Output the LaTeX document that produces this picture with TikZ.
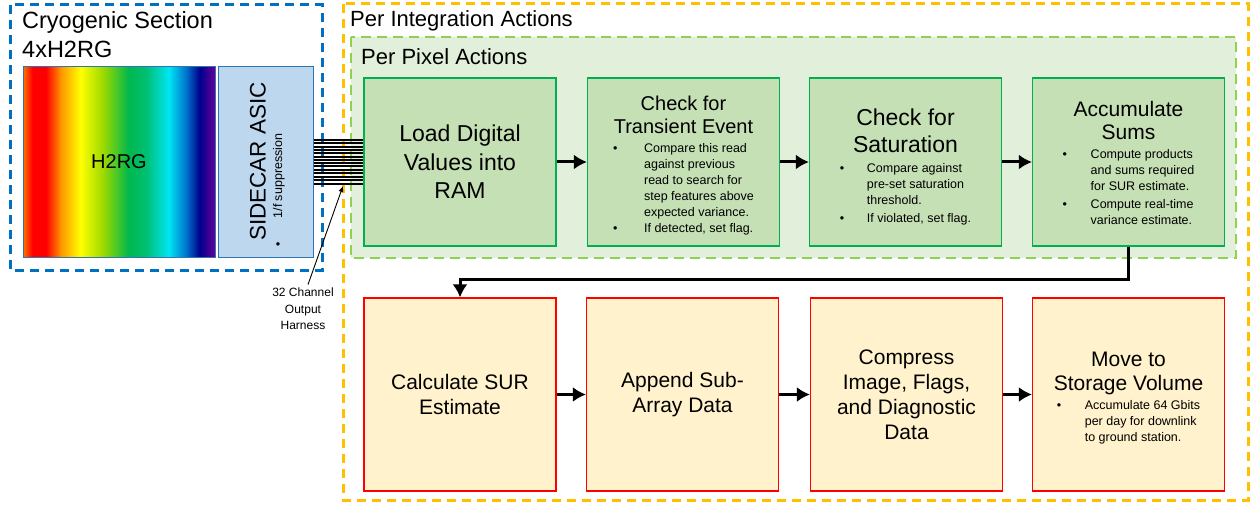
\documentclass[tikz,border=0pt]{standalone}
\usepackage{fontspec}
\setmainfont{Liberation Sans}
\usetikzlibrary{arrows,arrows.meta}

\definecolor{cryoblue}{RGB}{0,112,192}
\definecolor{intorange}{RGB}{255,192,0}
\definecolor{pixgreen}{RGB}{146,208,80}
\definecolor{pixfill}{RGB}{226,239,218}
\definecolor{stepgreen}{RGB}{0,176,80}
\definecolor{stepfill}{RGB}{197,224,180}
\definecolor{outfill}{RGB}{255,242,204}
\definecolor{asicfill}{RGB}{189,215,238}
\definecolor{asicline}{RGB}{46,117,182}

\pgfdeclarehorizontalshading{rainbow}{100bp}{rgb(0bp)=(1,0.45,0); rgb(25bp)=(1,0.45,0);
  rgb(27.5bp)=(1,0,0); rgb(31bp)=(1,0,0); rgb(35bp)=(1,0.6,0); rgb(40bp)=(1,1,0);
  rgb(46bp)=(0.6,0.85,0); rgb(52.5bp)=(0,0.72,0.3); rgb(57bp)=(0,0.75,0.45);
  rgb(63bp)=(0,0.9,0.95); rgb(67.5bp)=(0,0.45,0.8); rgb(71bp)=(0,0,0.55);
  rgb(75bp)=(0.4,0,0.6); rgb(100bp)=(0.4,0,0.6)}

\newcommand{\bpts}[2][27pt]{{\fontsize{12.5}{16}\selectfont\begin{tabular}[t]{@{}p{#1}@{}l@{}}#2\end{tabular}}}

\tikzset{
  pixbox/.style={draw=stepgreen, fill=stepfill, line width=1.2pt, minimum width=192pt, minimum height=168pt, inner sep=0pt, align=center},
  intbox/.style={draw=red, fill=outfill, line width=1.2pt, minimum width=192pt, minimum height=193pt, inner sep=0pt, align=center},
  flow/.style={-{Latex[length=13pt,width=15pt]}, line width=3pt},
  harness/.style={line width=1.1pt},
  region/.style={line width=3pt, dash pattern=on 9pt off 6pt},
  heading/.style={anchor=base west, inner sep=0pt, font=\fontsize{22}{26}\selectfont}
}

\begin{document}
\begin{tikzpicture}[x=1pt, y=-1pt]
  \useasboundingbox (0,0) rectangle (1253,508);
  % regions
  \draw[region, cryoblue] (10,5) rectangle (322,270);
  \draw[region, intorange] (343,4) rectangle (1248,500);
  \draw[region, pixgreen, fill=pixfill, line width=2.5pt, dash pattern=on 10pt off 6pt] (351,37) rectangle (1236,258);
  \node[heading, font=\fontsize{23.5}{28}\selectfont] (cryo) at (22,29) {Cryogenic Section};
  \node[heading, font=\fontsize{23.5}{28}\selectfont] (cryoarr) at (22,58) {4xH2RG};
  \node[heading] (integ) at (350,27) {Per Integration Actions};
  \node[heading] (pixel) at (361,65) {Per Pixel Actions};

  % detector and ASIC
  \node[draw=asicline, line width=1pt, shading=rainbow, minimum width=192pt, minimum height=190pt, font=\fontsize{20}{24}\selectfont] (fpa) at (119,162) {H2RG};
  \node[draw=asicline, fill=asicfill, line width=1pt, minimum width=95pt, minimum height=190pt] (asic) at (265.5,162) {};
  \node[rotate=90, font=\fontsize{22.5}{27}\selectfont] (asicname) at (258,161.5) {SIDECAR ASIC};
  \node[rotate=90, font=\fontsize{12.5}{15}\selectfont] (onef) at (279,176) {1/f suppression};
  \node[font=\fontsize{12.5}{15}\selectfont] (asicdot) at (278,246) {\textbullet};

  % per pixel
  \node[pixbox, font=\fontsize{23}{28.5}\selectfont] (load) at (460,162) {Load Digital\\Values into\\RAM};
  \node[pixbox, font=\fontsize{20}{23}\selectfont] (trans) at (683.5,162) {Check for\\Transient Event\\[-4pt]\bpts[31pt]{\textbullet & Compare this read\\ & against previous\\ & read to search for\\ & step features above\\ & expected variance.\\ \textbullet & If detected, set flag.\\[-9pt]}};
  \node[pixbox, font=\fontsize{23}{27}\selectfont] (sat) at (905.5,162) {Check for\\Saturation\\[-7pt]\bpts{\textbullet & Compare against\\ & pre-set saturation\\ & threshold.\\[2pt] \textbullet & If violated, set flag.\\[-12pt]}};
  \node[pixbox, font=\fontsize{21}{23}\selectfont] (acc) at (1128.5,162) {Accumulate\\Sums\\[-4pt]\bpts[28pt]{\textbullet & Compute products\\ & and sums required\\ & for SUR estimate.\\[2pt] \textbullet & Compute real-time\\ & variance estimate.\\[-7pt]}};

  % per integration
  \node[intbox, font=\fontsize{21}{25}\selectfont] (calc) at (460,394.5) {Calculate SUR\\Estimate};
  \node[intbox, font=\fontsize{21}{25}\selectfont] (append) at (682.5,394.5) {Append Sub-\\Array Data};
  \node[intbox, font=\fontsize{21}{25}\selectfont] (comp) at (906.5,394.5) {Compress\\Image, Flags,\\and Diagnostic\\Data};
  \node[intbox, font=\fontsize{21}{24}\selectfont] (move) at (1128.5,394.5) {Move to\\Storage Volume\\[-5pt]\bpts[28pt]{\textbullet & Accumulate 64 Gbits\\ & per day for downlink\\ & to ground station.\\[-9pt]}};

  \draw[flow] (load) -- (trans);
  \draw[flow] (trans) -- (sat);
  \draw[flow] (sat) -- (acc);
  \draw[flow] (acc.south) -- ++(0,33) -| (calc.north);
  \draw[flow] (calc) -- (append);
  \draw[flow] (append) -- (comp);
  \draw[flow] (comp) -- (move);

  % harness
  \foreach \yy in {140,143,147,150,153,157,160,163,166,170,173,177,180,184} {
    \coordinate (h) at (0,\yy);
    \draw[harness] (asic.east |- h) -- (load.west |- h);
  }
  \node[align=center, font=\fontsize{12}{16.5}\selectfont] (harnesslbl) at (303,309) {32 Channel\\Output\\Harness};
  \coordinate (tap) at (343,186);
  \draw[-{Latex[length=6pt,width=5pt]}, line width=0.9pt] ([xshift=5pt]harnesslbl.north) -- (tap);
\end{tikzpicture}
\end{document}
